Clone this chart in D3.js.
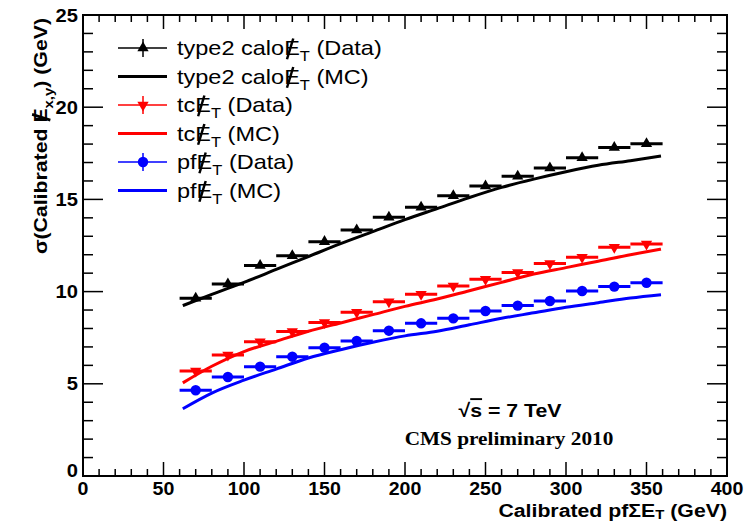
<!DOCTYPE html>
<html>
<head>
<meta charset="utf-8">
<script src="https://cdn.jsdelivr.net/npm/d3@7/dist/d3.min.js"></script>
<style>
  html, body { margin: 0; padding: 0; background: #fff; }
  svg { display: block; }
  text { font-family: "Liberation Sans", Arial, Helvetica, sans-serif; fill: #000; }
</style>
</head>
<body>
<svg id="chart" width="745" height="523"></svg>
<script>
// Bin centres of the measured points (20 GeV wide bins)
const binCenters = [70, 90, 110, 130, 150, 170, 190, 210, 230, 250, 270, 290, 310, 330, 350];
const binHalfWidth = 10;

// Measured resolution, data
const caloData = [9.64, 10.41, 11.41, 11.95, 12.71, 13.34, 14.03, 14.57, 15.2, 15.73, 16.25, 16.7, 17.26, 17.82, 18.02];
const tcData   = [5.69, 6.56, 7.28, 7.83, 8.33, 8.88, 9.45, 9.85, 10.3, 10.67, 11.03, 11.53, 11.86, 12.4, 12.58];
const pfData   = [4.65, 5.37, 5.93, 6.47, 6.96, 7.32, 7.88, 8.28, 8.55, 8.95, 9.24, 9.49, 10.03, 10.27, 10.48];

// Simulation curves
const mcX    = [62, 80, 100, 120, 140, 160, 180, 200, 220, 240, 260, 280, 300, 320, 340, 359];
const caloMC = [9.24, 9.85, 10.5, 11.2, 11.9, 12.6, 13.25, 13.9, 14.5, 15.1, 15.65, 16.1, 16.5, 16.85, 17.1, 17.35];
const tcMC   = [5.05, 5.95, 6.75, 7.3, 7.85, 8.3, 8.75, 9.2, 9.6, 10.05, 10.5, 10.95, 11.3, 11.65, 12.0, 12.3];
const pfMC   = [3.65, 4.5, 5.2, 5.8, 6.4, 6.85, 7.25, 7.6, 7.85, 8.2, 8.55, 8.85, 9.15, 9.4, 9.65, 9.83];

// Axis ticks
const xMajorTicks = [0, 50, 100, 150, 200, 250, 300, 350, 400];
const yMajorTicks = [0, 5, 10, 15, 20, 25];

const series = [
  { name: "type2 calo", data: caloData, mc: caloMC, color: "#000000", marker: "up" },
  { name: "tc",         data: tcData,   mc: tcMC,   color: "#ff0000", marker: "down" },
  { name: "pf",         data: pfData,   mc: pfMC,   color: "#0000ff", marker: "circle" }
];

const svg = d3.select("#chart");
const frame = { left: 83, right: 727, top: 15, bottom: 476 };
const STRETCH = 1.12;   // text is set slightly wide

const x = d3.scaleLinear().domain([0, 400]).range([frame.left, frame.right]);
const y = d3.scaleLinear().domain([0, 25]).range([frame.bottom, frame.top]);

// Text made of parts: plain runs, a slashed "E" (missing energy) and subscripts.
// The group is anchored at (px, py); anchor is "start", "middle" or "end".
function richText(parent, px, py, parts, opts) {
  const fs = opts.size;
  const subShift = opts.subShift != null ? opts.subShift : 0.3;
  const g = parent.append("g")
    .attr("transform", `translate(${px},${py})` + (opts.rotate ? ` rotate(${opts.rotate})` : "") + ` scale(${STRETCH},1)`);
  const t = g.append("text").attr("x", 0).attr("y", 0)
    .attr("font-size", fs)
    .attr("font-weight", opts.bold ? "bold" : null)
    .attr("text-anchor", opts.anchor || "start");
  if (opts.family) t.style("font-family", opts.family);
  let shift = 0, idx = 0;
  const slashIdx = [];
  parts.forEach(p => {
    const s = t.append("tspan").text(p.t);
    if (p.sub) {
      s.attr("font-size", fs * 0.7).attr("dy", subShift * fs - shift);
      shift = subShift * fs;
    } else if (shift !== 0) {
      s.attr("dy", -shift);
      shift = 0;
    }
    if (p.over) s.style("text-decoration", "overline");
    if (p.slash) slashIdx.push(idx);
    idx += p.t.length;
  });
  slashIdx.forEach(i => {
    const e = t.node().getExtentOfChar(i);
    g.append("line")
      .attr("x1", e.x + e.width * 0.18).attr("y1", e.y + e.height * 0.98)
      .attr("x2", e.x + e.width * 0.58).attr("y2", e.y + e.height * 0.1)
      .attr("stroke", "#000").attr("stroke-width", opts.bold ? 2.6 : 2.2);
  });
  return g;
}

// ---- frame and ticks (ticks inside, on all four sides)
const axes = svg.append("g").attr("stroke", "#000").attr("fill", "none");
axes.append("rect")
  .attr("x", frame.left).attr("y", frame.top)
  .attr("width", frame.right - frame.left).attr("height", frame.bottom - frame.top)
  .attr("stroke-width", 2);

const xMinor = d3.range(0, 401, 10);
const yMinor = d3.range(0, 26, 1);
xMinor.forEach(v => {
  const len = (v % 50 === 0) ? 14 : 7;
  axes.append("line").attr("x1", x(v)).attr("x2", x(v))
    .attr("y1", frame.bottom).attr("y2", frame.bottom - len).attr("stroke-width", 1.5);
  axes.append("line").attr("x1", x(v)).attr("x2", x(v))
    .attr("y1", frame.top).attr("y2", frame.top + len).attr("stroke-width", 1.5);
});
yMinor.forEach(v => {
  const len = (v % 5 === 0) ? 20 : 10;
  axes.append("line").attr("y1", y(v)).attr("y2", y(v))
    .attr("x1", frame.left).attr("x2", frame.left + len).attr("stroke-width", 1.5);
  axes.append("line").attr("y1", y(v)).attr("y2", y(v))
    .attr("x1", frame.right).attr("x2", frame.right - len).attr("stroke-width", 1.5);
});

// tick labels
xMajorTicks.forEach(v => {
  richText(svg, x(v), 494.5, [{ t: String(v) }], { size: 17.5, bold: true, anchor: "middle" });
});
yMajorTicks.forEach(v => {
  richText(svg, frame.left - 5, y(v) + (v === 0 ? 1 : 6.5), [{ t: String(v) }], { size: 18, bold: true, anchor: "end" });
});

// axis titles
richText(svg, frame.right, 516.5,
  [{ t: "Calibrated pfΣE" }, { t: "T", sub: true }, { t: " (GeV)" }],
  { size: 19, bold: true, anchor: "end", subShift: 0.15 });

richText(svg, 47, frame.top + 3,
  [{ t: "σ(Calibrated " }, { t: "E", slash: true }, { t: "x,y", sub: true }, { t: ") (GeV)" }],
  { size: 19, bold: true, anchor: "end", rotate: -90 });

// ---- plot contents
const plot = svg.append("g");
const line = d3.line().x((d, i) => x(mcX[i])).y(d => y(d)).curve(d3.curveMonotoneX);

function markerPath(kind) {
  if (kind === "circle") return d3.symbol(d3.symbolCircle, 85)();
  return d3.symbol(d3.symbolTriangle, 55)();
}

series.forEach(s => {
  plot.append("path").datum(s.mc)
    .attr("d", line)
    .attr("fill", "none").attr("stroke", s.color).attr("stroke-width", 3);

  const g = plot.append("g");
  s.data.forEach((v, i) => {
    const c = binCenters[i];
    g.append("line")
      .attr("x1", x(c - binHalfWidth)).attr("x2", x(c + binHalfWidth))
      .attr("y1", y(v)).attr("y2", y(v))
      .attr("stroke", s.color).attr("stroke-width", 3);
    g.append("path")
      .attr("d", markerPath(s.marker))
      .attr("transform", `translate(${x(c)},${y(v)})` + (s.marker === "down" ? " rotate(180)" : ""))
      .attr("fill", s.color);
  });
});

// ---- legend
const legend = svg.append("g");
const rowY = [48, 76.5, 105, 133.5, 162, 190.5];
series.forEach((s, k) => {
  const yd = rowY[2 * k], ym = rowY[2 * k + 1];
  // data entry
  legend.append("line").attr("x1", 118).attr("x2", 167).attr("y1", yd).attr("y2", yd)
    .attr("stroke", s.color).attr("stroke-width", 1.5);
  legend.append("line").attr("x1", 143).attr("x2", 143).attr("y1", yd - 9).attr("y2", yd + 9)
    .attr("stroke", s.color).attr("stroke-width", 1.5);
  legend.append("path").attr("d", markerPath(s.marker))
    .attr("transform", `translate(143,${yd})` + (s.marker === "down" ? " rotate(180)" : ""))
    .attr("fill", s.color);
  richText(legend, 177, yd + 7,
    [{ t: s.name }, { t: "E", slash: true }, { t: "T", sub: true }, { t: " (Data)" }],
    { size: 21 });

  // simulation entry
  legend.append("line").attr("x1", 118).attr("x2", 167).attr("y1", ym).attr("y2", ym)
    .attr("stroke", s.color).attr("stroke-width", 3);
  richText(legend, 177, ym + 7,
    [{ t: s.name }, { t: "E", slash: true }, { t: "T", sub: true }, { t: " (MC)" }],
    { size: 21 });
});

// ---- annotations
richText(svg, 510, 417,
  [{ t: "√" }, { t: "s", over: true }, { t: " = 7 TeV" }],
  { size: 19, bold: true, anchor: "middle" });

richText(svg, 509, 445, [{ t: "CMS preliminary 2010" }],
  { size: 19, bold: true, anchor: "middle", family: "'Liberation Serif', 'Times New Roman', serif" });
</script>
</body>
</html>
